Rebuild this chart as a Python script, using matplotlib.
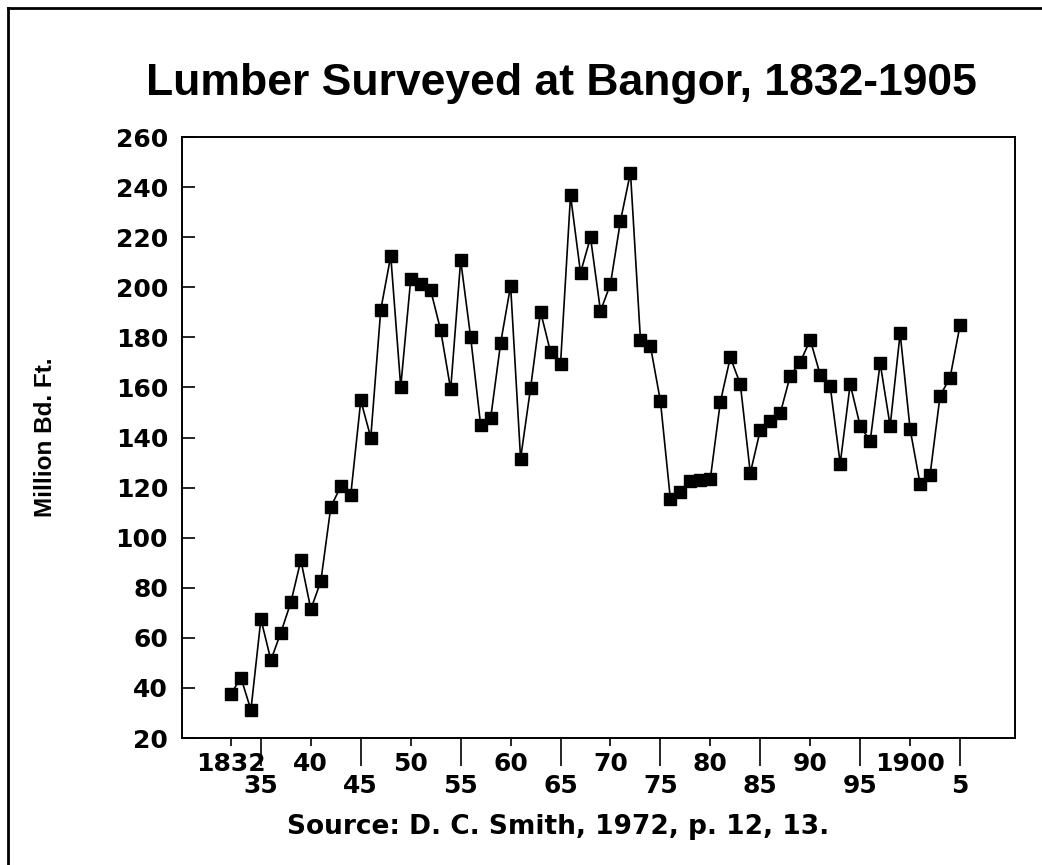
import matplotlib
matplotlib.use("Agg")
import matplotlib.pyplot as plt
from matplotlib.lines import Line2D

# Lumber surveyed at Bangor, million board feet, one value per year
years = list(range(1832, 1906))
lumber = [37.6, 44.1, 31.2, 67.5, 51.1, 62.1, 74.2, 91.0, 71.4, 82.6,
          112.3, 120.5, 117.2, 154.8, 140.0, 191.0, 212.5, 160.2, 203.2, 201.3,
          198.8, 182.8, 159.2, 210.8, 180.0, 145.0, 147.6, 177.7, 200.6, 131.5,
          159.8, 190.2, 174.1, 169.5, 236.7, 205.8, 219.9, 190.5, 201.3, 226.5,
          245.8, 179.1, 176.5, 154.5, 115.3, 118.4, 122.5, 123.0, 123.6, 154.2,
          172.0, 161.3, 125.8, 143.0, 146.4, 149.7, 164.7, 170.1, 179.0, 165.0,
          160.4, 129.6, 161.3, 144.6, 138.5, 169.7, 144.6, 181.6, 143.3, 121.4,
          125.2, 156.7, 163.9, 184.9]

upper_ticks = [1832, 1840, 1850, 1860, 1870, 1880, 1890, 1900]
upper_labels = ["1832", "40", "50", "60", "70", "80", "90", "1900"]
lower_ticks = [1835, 1845, 1855, 1865, 1875, 1885, 1895, 1905]
lower_labels = ["35", "45", "55", "65", "75", "85", "95", "5"]
y_ticks = list(range(20, 261, 20))

plt.rcParams['font.family'] = ['DejaVu Sans']
plt.rcParams['font.weight'] = 'bold'

fig = plt.figure(figsize=(10.42, 8.65), dpi=100)
ax = fig.add_axes([182/1042, 1-738/865, (1015-182)/1042, (738-137)/865])

ax.plot(years, lumber, color='black', lw=1.2, marker='s', ms=8.5,
        mfc='black', mec='black')

ax.set_xlim(1827.1, 1910.5)
ax.set_ylim(20, 260)

# two staggered rows of year labels: short ticks on top row, long ticks below
ax.set_xticks(upper_ticks, upper_labels)
ax.set_xticks(lower_ticks, lower_labels, minor=True)
ax.tick_params(axis='x', which='major', direction='out', length=6, width=1.2,
               pad=4, labelsize=18)
ax.tick_params(axis='x', which='minor', direction='out', length=20, width=1.2,
               pad=6, labelsize=18)
ax.set_yticks(y_ticks)
ax.tick_params(axis='y', direction='in', length=9, width=1.2, pad=10,
               labelsize=18)
for lab in ax.get_xticklabels(minor=True) + ax.get_xticklabels() + ax.get_yticklabels():
    lab.set_fontweight('bold')

for s in ax.spines.values():
    s.set_linewidth(1.4)

ax.set_ylabel("Million Bd. Ft.", fontsize=17.5, fontweight='bold',
              family='Liberation Sans')
ax.yaxis.set_label_coords(-0.150, 0.5)
fig.text(0.539, 1-83/865, "Lumber Surveyed at Bangor, 1832-1905", ha='center',
         va='center', fontsize=32, fontweight='bold', family='Liberation Sans')
fig.text(558/1042, 1-827/865, "Source: D. C. Smith, 1972, p. 12, 13.",
         ha='center', va='center', fontsize=19, fontweight='bold')

# frame around the figure (left and top edges visible)
fig.add_artist(Line2D([8/1042, 8/1042], [0, 1-8/865], color='black', lw=2,
                      transform=fig.transFigure))
fig.add_artist(Line2D([8/1042, 1], [1-8/865, 1-8/865], color='black', lw=2,
                      transform=fig.transFigure))

fig.savefig("out.png", dpi=100)
